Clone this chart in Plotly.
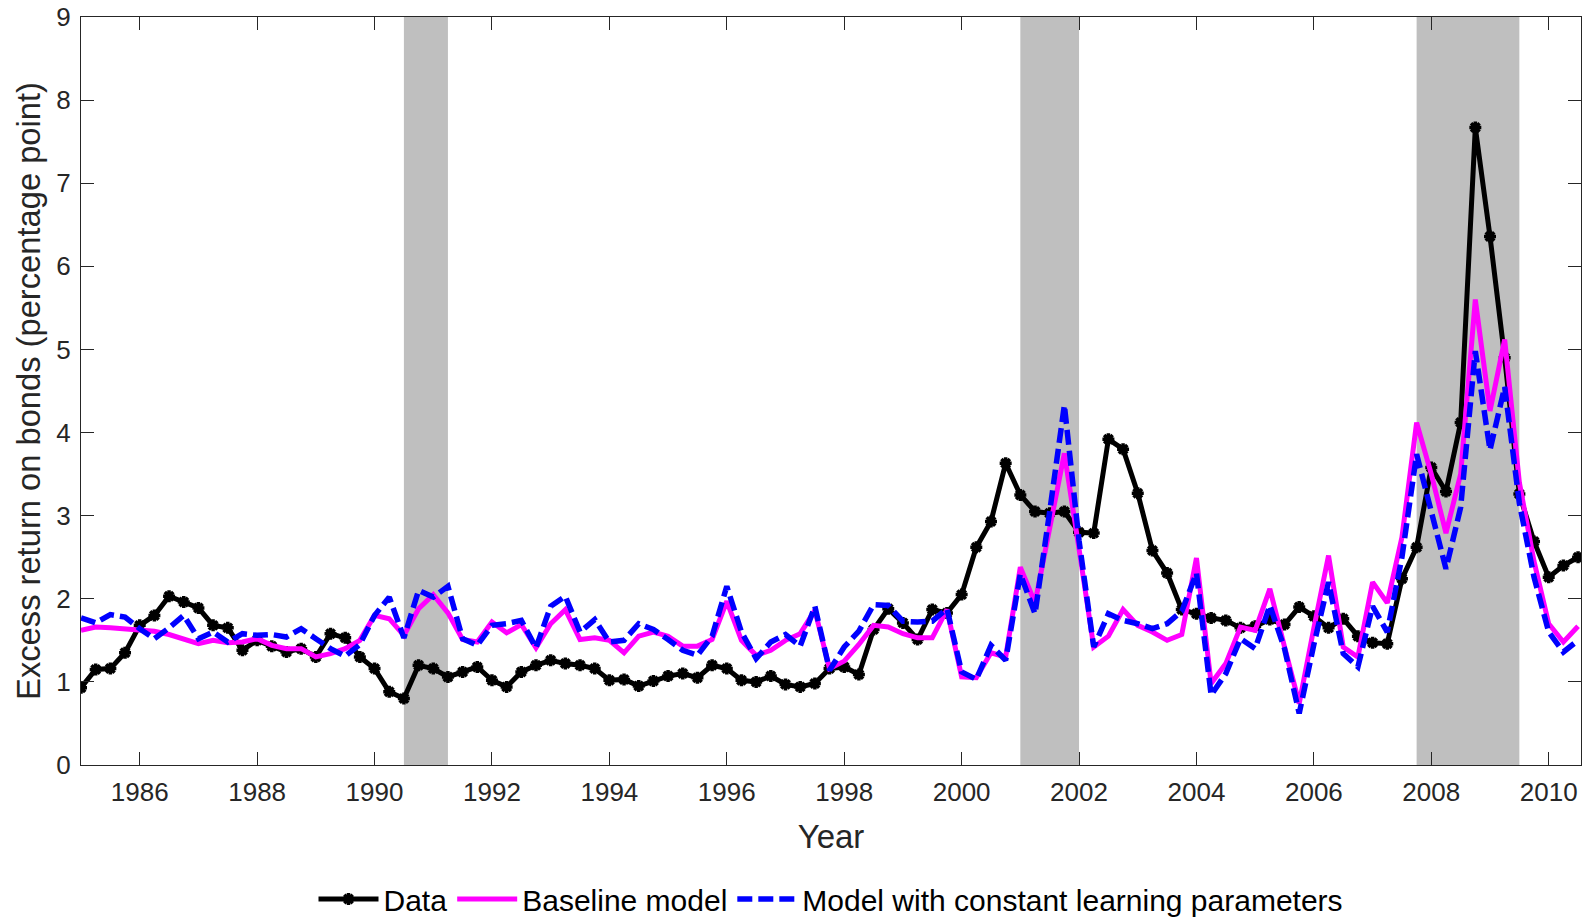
import plotly.graph_objects as go

# Quarterly observations, 1985Q1 - 2010Q3
start_year = 1985
n_quarters = 103
quarters = [start_year + i / 4 for i in range(n_quarters)]

# Realised excess return on bonds (percentage point)
data = [
    0.93, 1.15, 1.16, 1.35,
    1.68, 1.80, 2.03, 1.96,
    1.89, 1.68, 1.65, 1.38,
    1.50, 1.43, 1.36, 1.40,
    1.30, 1.58, 1.53, 1.30,
    1.16, 0.88, 0.80, 1.20,
    1.16, 1.06, 1.12, 1.18,
    1.02, 0.94, 1.12, 1.20,
    1.26, 1.22, 1.20, 1.16,
    1.02, 1.03, 0.95, 1.01,
    1.07, 1.10, 1.05, 1.20,
    1.16, 1.02, 1.00, 1.07,
    0.97, 0.94, 0.98, 1.16,
    1.18, 1.09, 1.63, 1.88,
    1.71, 1.51, 1.87, 1.83,
    2.05, 2.62, 2.93, 3.63,
    3.25, 3.05, 3.03, 3.05,
    2.80, 2.79, 3.92, 3.80,
    3.27, 2.58, 2.31, 1.87,
    1.82, 1.77, 1.74, 1.65,
    1.67, 1.75, 1.69, 1.90,
    1.79, 1.65, 1.76, 1.55,
    1.47, 1.46, 2.24, 2.62,
    3.58, 3.29, 4.12, 7.67,
    6.36, 4.90, 3.26, 2.69,
    2.26, 2.40, 2.50,
]

# Baseline model prediction
baseline = [
    1.62, 1.66, 1.65, 1.64,
    1.63, 1.61, 1.57, 1.52,
    1.46, 1.50, 1.47, 1.48,
    1.52, 1.44, 1.40, 1.40,
    1.30, 1.34, 1.40, 1.50,
    1.80, 1.76, 1.56, 1.88,
    2.05, 1.83, 1.51, 1.48,
    1.72, 1.59, 1.69, 1.41,
    1.70, 1.87, 1.51, 1.53,
    1.50, 1.35, 1.55, 1.60,
    1.55, 1.43, 1.43, 1.51,
    1.97, 1.50, 1.32, 1.38,
    1.50, 1.58, 1.86, 1.16,
    1.25, 1.45, 1.68, 1.66,
    1.58, 1.53, 1.53, 1.87,
    1.06, 1.05, 1.35, 1.30,
    2.38, 1.95, 2.85, 3.75,
    2.60, 1.42, 1.55, 1.87,
    1.68, 1.60, 1.50, 1.57,
    2.49, 0.98, 1.22, 1.66,
    1.62, 2.12, 1.42, 0.74,
    1.65, 2.52, 1.42, 1.30,
    2.20, 1.95, 2.74, 4.12,
    3.50, 2.79, 3.50, 5.60,
    4.26, 5.12, 3.40, 2.45,
    1.70, 1.48, 1.67,
]

# Model with constant learning parameters
constant_learning = [
    1.77, 1.71, 1.81, 1.78,
    1.64, 1.52, 1.65, 1.80,
    1.52, 1.60, 1.48, 1.58,
    1.56, 1.57, 1.54, 1.64,
    1.52, 1.40, 1.31, 1.45,
    1.80, 2.02, 1.53, 2.10,
    2.02, 2.15, 1.52, 1.44,
    1.68, 1.70, 1.74, 1.41,
    1.91, 2.03, 1.60, 1.75,
    1.48, 1.50, 1.70, 1.63,
    1.51, 1.38, 1.32, 1.55,
    2.15, 1.60, 1.28, 1.48,
    1.57, 1.43, 1.91, 1.14,
    1.42, 1.61, 1.93, 1.92,
    1.73, 1.72, 1.73, 1.88,
    1.12, 1.03, 1.44, 1.26,
    2.30, 1.82, 3.05, 4.33,
    2.70, 1.42, 1.82, 1.74,
    1.70, 1.64, 1.70, 1.85,
    2.31, 0.84, 1.10, 1.52,
    1.40, 1.92, 1.40, 0.62,
    1.45, 2.20, 1.34, 1.18,
    1.91, 1.60, 2.50, 3.74,
    3.05, 2.36, 3.10, 4.98,
    3.79, 4.55, 3.15, 2.26,
    1.60, 1.36, 1.50,
]

# Recession periods (start, end) in fractional years
recessions = [(1990.5, 1991.25), (2001.0, 2002.0), (2007.75, 2009.5)]

x_ticks = list(range(1986, 2011, 2))
y_ticks = list(range(0, 10))

FONT = "Liberation Sans, Arial, Helvetica, sans-serif"
AXIS_COLOR = "#262626"

fig = go.Figure()

fig.add_trace(go.Scatter(
    x=quarters, y=data, name="Data", mode="lines+markers",
    line=dict(color="#000000", width=5),
    marker=dict(symbol="asterisk-open", size=10, color="#000000",
                line=dict(color="#000000", width=3.5)),
))
fig.add_trace(go.Scatter(
    x=quarters, y=baseline, name="Baseline model", mode="lines",
    line=dict(color="#FF00FF", width=5),
))
fig.add_trace(go.Scatter(
    x=quarters, y=constant_learning,
    name="Model with constant learning parameters", mode="lines",
    line=dict(color="#0000FF", width=5.5, dash="15px,6px"),
))

for start, end in recessions:
    fig.add_shape(type="rect", xref="x", yref="y", x0=start, x1=end,
                  y0=0, y1=9, fillcolor="#BFBFBF", line=dict(width=0),
                  layer="below")

fig.update_layout(
    width=1589, height=917,
    margin=dict(l=81, r=8, t=17, b=152, autoexpand=False),
    paper_bgcolor="white", plot_bgcolor="white",
    font=dict(family=FONT, color=AXIS_COLOR, size=26),
    showlegend=True,
    legend=dict(
        orientation="h", x=0.5, xanchor="center", y=-0.179, yanchor="middle",
        font=dict(family=FONT, size=30, color="#000000"),
        itemwidth=60, bgcolor="rgba(0,0,0,0)", traceorder="normal",
        tracegroupgap=0,
    ),
)

fig.update_xaxes(
    range=[1985.0, 2010.55], tickmode="array", tickvals=x_ticks,
    ticktext=[str(v) for v in x_ticks],
    ticks="inside", ticklen=13, tickwidth=1, tickcolor=AXIS_COLOR,
    showline=True, linecolor=AXIS_COLOR, linewidth=1, mirror="ticks",
    showgrid=False, zeroline=False, automargin=False,
    ticklabelstandoff=4,
    tickfont=dict(size=26, color=AXIS_COLOR),
    title=dict(text="Year", font=dict(size=33, color=AXIS_COLOR), standoff=18),
)
fig.update_yaxes(
    range=[0, 9], tickmode="array", tickvals=y_ticks,
    ticktext=[str(v) for v in y_ticks],
    ticks="inside", ticklen=13, tickwidth=1, tickcolor=AXIS_COLOR,
    showline=True, linecolor=AXIS_COLOR, linewidth=1, mirror="ticks",
    showgrid=False, zeroline=False, automargin=False,
    ticklabelstandoff=4,
    tickfont=dict(size=26, color=AXIS_COLOR),
    title=dict(text="Excess return on bonds (percentage point)",
               font=dict(size=32.7, color=AXIS_COLOR), standoff=5),
)

fig.write_html("out.html")
